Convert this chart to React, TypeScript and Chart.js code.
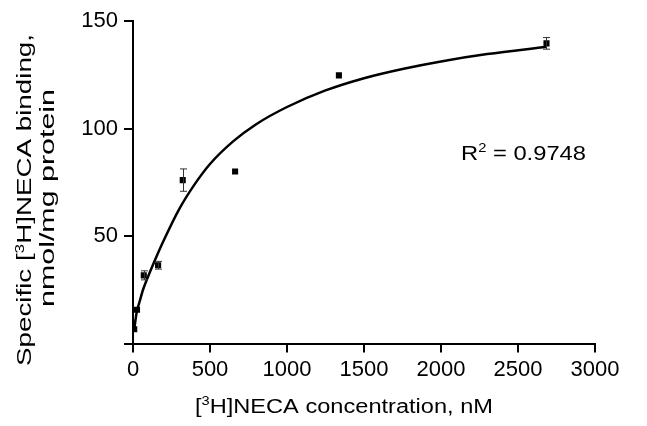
import React, { useEffect, useRef } from "react";
import { Chart, registerables } from "chart.js";

Chart.register(...registerables);

// Measured data (concentration in nM, specific binding in nmol/mg protein)
const concentrations = [8, 26, 70, 163, 323, 663, 1337, 2685];
const binding = [6.6, 15.7, 31.7, 36.4, 76, 80, 124.7, 139.6];
const bindingErr = [0, 0, 2.1, 1.8, 5.2, 0, 0, 2.7];

// Fitted saturation curve
const fitX = [8, 24, 45, 65, 100, 150, 200, 300, 400, 500, 650, 800, 1000, 1250, 1500, 1750, 2000, 2300, 2685];
const fitY = [6.6, 14.5, 20, 25, 31.5, 40, 48, 62.5, 74, 83.5, 94, 102, 110, 117.7, 123.4, 127.7, 131.2, 134.6, 138];

const xTicks = [0, 500, 1000, 1500, 2000, 2500, 3000];
const yTicks = [0, 50, 100, 150];
const r2Value = "0.9748";

const FONT = '"Liberation Sans", Arial, Helvetica, sans-serif';

type Seg = { t: string; sup?: boolean };

function drawRich(
  ctx: CanvasRenderingContext2D,
  segs: Seg[],
  x: number,
  y: number,
  size: number,
  align: "left" | "center",
  rotation: number,
  targetWidth?: number
) {
  const supSize = size * 0.62;
  const widths = segs.map((s) => {
    ctx.font = `${s.sup ? supSize : size}px ${FONT}`;
    return ctx.measureText(s.t).width;
  });
  const total = widths.reduce((a, b) => a + b, 0);
  const scale = targetWidth ? targetWidth / total : 1;
  ctx.save();
  ctx.translate(x, y);
  ctx.rotate(rotation);
  ctx.scale(scale, 1);
  ctx.fillStyle = "#000";
  ctx.textBaseline = "alphabetic";
  ctx.textAlign = "left";
  let cx = align === "center" ? -total / 2 : 0;
  segs.forEach((s, i) => {
    ctx.font = `${s.sup ? supSize : size}px ${FONT}`;
    ctx.fillText(s.t, cx, s.sup ? -size * 0.38 : 0);
    cx += widths[i];
  });
  ctx.restore();
}

const extrasPlugin = {
  id: "extras",
  afterDatasetsDraw(chart: any) {
    const ctx: CanvasRenderingContext2D = chart.ctx;
    const xs = chart.scales.x;
    const ys = chart.scales.y;
    ctx.save();
    ctx.strokeStyle = "#333";
    ctx.lineWidth = 1;
    concentrations.forEach((c, i) => {
      const e = bindingErr[i];
      if (!e) return;
      const px = Math.round(xs.getPixelForValue(c)) + 0.5;
      const top = ys.getPixelForValue(binding[i] + e);
      const bot = ys.getPixelForValue(binding[i] - e);
      ctx.beginPath();
      ctx.moveTo(px, top);
      ctx.lineTo(px, bot);
      ctx.moveTo(px - 3.5, top);
      ctx.lineTo(px + 3.5, top);
      ctx.moveTo(px - 3.5, bot);
      ctx.lineTo(px + 3.5, bot);
      ctx.stroke();
    });
    ctx.restore();
  },
  afterDraw(chart: any) {
    const ctx: CanvasRenderingContext2D = chart.ctx;
    // x-axis title
    drawRich(
      ctx,
      [{ t: "[" }, { t: "3", sup: true }, { t: "H]NECA concentration, nM" }],
      344,
      413,
      20,
      "center",
      0,
      298
    );
    // y-axis title (two lines)
    drawRich(
      ctx,
      [{ t: "Specific [" }, { t: "3", sup: true }, { t: "H]NECA binding," }],
      31,
      200,
      19.5,
      "center",
      -Math.PI / 2,
      332
    );
    drawRich(
      ctx,
      [{ t: "nmol/mg protein" }],
      54,
      198,
      19.5,
      "center",
      -Math.PI / 2,
      218
    );
    // R squared annotation
    drawRich(
      ctx,
      [{ t: "R" }, { t: "2", sup: true }, { t: " = " + r2Value }],
      461,
      160,
      20,
      "left",
      0,
      125
    );
  },
};

export default function App() {
  const ref = useRef<HTMLCanvasElement | null>(null);
  useEffect(() => {
    if (!ref.current) return;
    const chart = new Chart(ref.current, {
      type: "scatter",
      data: {
        datasets: [
          {
            label: "fit",
            data: fitX.map((x, i) => ({ x, y: fitY[i] })),
            showLine: true,
            borderColor: "#000",
            borderWidth: 2.5,
            pointRadius: 0,
            cubicInterpolationMode: "monotone",
            order: 2,
          } as any,
          {
            label: "binding",
            data: concentrations.map((x, i) => ({ x, y: binding[i] })),
            pointStyle: "rect",
            pointRadius: 4.3,
            borderWidth: 0,
            backgroundColor: "#000",
            borderColor: "#000",
            order: 1,
          },
        ],
      },
      options: {
        responsive: false,
        animation: false,
        layout: { padding: { left: 0, right: 52, top: 21, bottom: 0 } },
        plugins: { legend: { display: false }, tooltip: { enabled: false } },
        scales: {
          x: {
            type: "linear",
            min: 0,
            max: 3000,
            afterBuildTicks: (s: any) => {
              s.ticks = xTicks.map((v) => ({ value: v }));
            },
            afterFit: (s: any) => {
              s.height = 82.5;
            },
            ticks: {
              color: "#000",
              font: { family: FONT, size: 22 },
              padding: 4,
              maxRotation: 0,
              callback: (v: any) => String(v),
            },
            grid: {
              display: true,
              drawOnChartArea: false,
              drawTicks: true,
              tickLength: 9,
              color: "#000",
              lineWidth: 2,
            },
            border: { display: true, color: "#000", width: 2 },
          },
          y: {
            type: "linear",
            min: 0,
            max: 150,
            afterBuildTicks: (s: any) => {
              s.ticks = yTicks.map((v) => ({ value: v }));
            },
            afterFit: (s: any) => {
              s.width = 133;
            },
            ticks: {
              color: "#000",
              font: { family: FONT, size: 22 },
              padding: 6,
              callback: (v: any) => (v === 0 ? "" : String(v)),
            },
            grid: {
              display: true,
              drawOnChartArea: false,
              drawTicks: true,
              tickLength: 9,
              color: "#000",
              lineWidth: 2,
            },
            border: { display: true, color: "#000", width: 2 },
          },
        },
      },
      plugins: [extrasPlugin],
    });
    return () => chart.destroy();
  }, []);
  return (
    <div style={{ position: "absolute", left: 0, top: 0, width: 647, height: 426, background: "#fff" }}>
      <canvas ref={ref} width={647} height={426} style={{ display: "block", width: 647, height: 426 }} />
    </div>
  );
}
